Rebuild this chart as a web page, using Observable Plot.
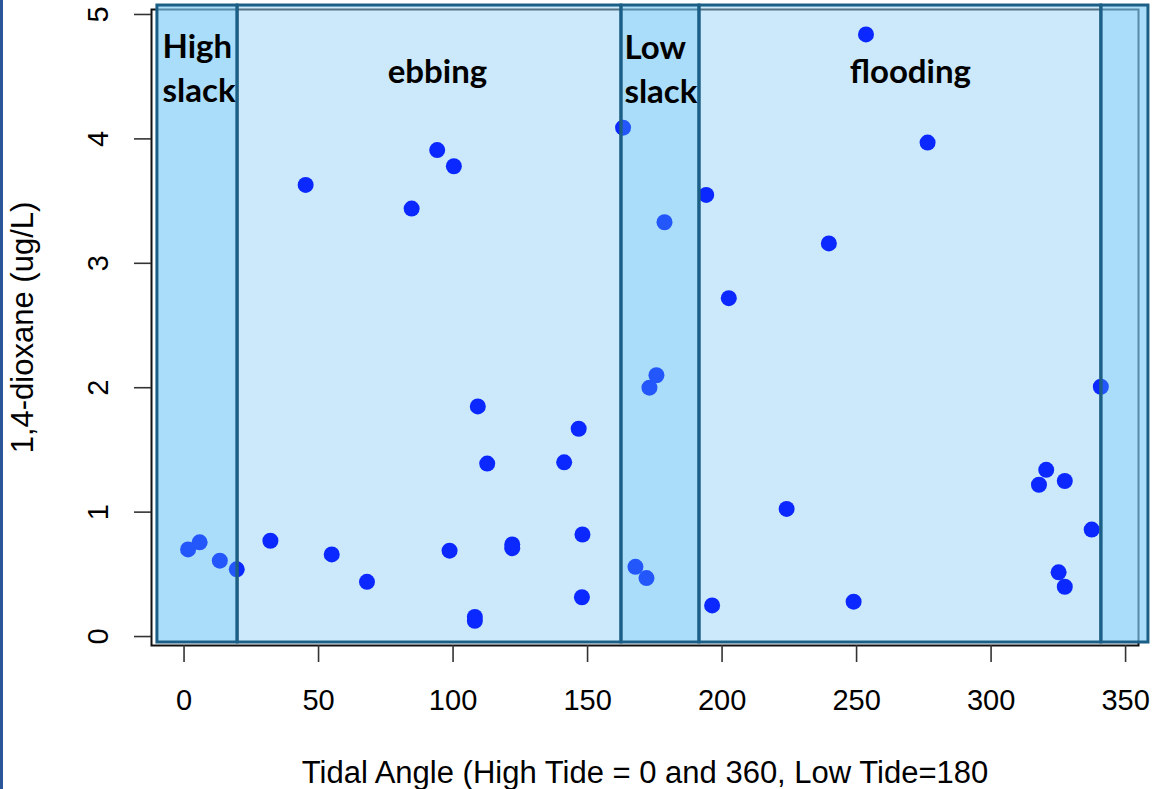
<!DOCTYPE html>
<html><head><meta charset="utf-8">
<script src="https://cdn.jsdelivr.net/npm/d3@7"></script>
<script src="https://cdn.jsdelivr.net/npm/@observablehq/plot@0.6"></script>
<style>
html,body{margin:0;padding:0;background:#fff;}
#wrap{position:relative;width:1153px;height:789px;overflow:hidden;}
#edge{position:absolute;left:0;top:0;width:3px;height:789px;background:#2a5699;z-index:2;}
svg{display:block;}
</style></head><body><div id="wrap"><div id="edge"></div></div>
<script>
// Tidal angle (degrees) and 1,4-dioxane concentration (ug/L)
const angle = [1.5, 5.8, 13.3, 19.6, 32.1, 45.2, 54.9, 68.0, 84.6, 94.1, 98.7, 100.3,
  108.1, 108.1, 109.2, 112.7, 122.0, 122.0, 141.3, 146.7, 148.1, 147.9,
  163.2, 167.8, 171.9, 173.0, 175.6, 178.6, 194.1, 196.3, 202.5, 224.0,
  239.7, 248.9, 253.5, 276.4, 317.8, 320.5, 325.1, 327.4, 327.4, 337.4, 340.8];
const dioxane = [0.70, 0.757, 0.61, 0.54, 0.77, 3.63, 0.66, 0.44, 3.44, 3.91, 0.69, 3.78,
  0.158, 0.126, 1.85, 1.39, 0.74, 0.71, 1.40, 1.67, 0.82, 0.316,
  4.09, 0.56, 0.47, 2.00, 2.10, 3.33, 3.55, 0.25, 2.72, 1.026,
  3.16, 0.28, 4.84, 3.97, 1.22, 1.34, 0.516, 1.25, 0.40, 0.86, 2.008];

const xTicks = [0, 50, 100, 150, 200, 250, 300, 350];
const yTicks = [0, 1, 2, 3, 4, 5];

// tidal phases (band drawn over the plot)
const phaseName  = ["High slack", "ebbing", "Low slack", "flooding", "High slack"];
const phaseStart = [-9.9, 19.9, 162.6, 191.6, 341.0];
const phaseEnd   = [19.9, 162.6, 191.6, 341.0, 358.5];
const phaseSlack = [true, false, true, false, true];
const bandBottom = -0.048, bandTop = 5.072;

// phase annotations
const labelText = ["High\nslack", "ebbing", "Low\nslack", "flooding"];
const labelX    = [-8.0, 94.2, 163.7, 270.0];
const labelY    = [4.293, 4.453, 4.285, 4.453];
const labelAnchor = ["start", "middle", "start", "middle"];

const xLabel = "Tidal Angle (High Tide = 0 and 360, Low Tide=180";
const yLabel = "1,4-dioxane (ug/L)";

const points = angle.map((a, i) => ({angle: a, dioxane: dioxane[i]}));
const phases = phaseName.map((n, i) => ({name: n, x1: phaseStart[i], x2: phaseEnd[i], slack: phaseSlack[i]}));
const band = [{x1: phaseStart[0], x2: phaseEnd[phaseEnd.length - 1]}];
const labels = labelText.map((t, i) => ({text: t, x: labelX[i], y: labelY[i], anchor: labelAnchor[i]}));

const axisFont = "'Liberation Sans', Arial, sans-serif";
const boldFont = "Lato, 'Open Sans', sans-serif";

const chart = Plot.plot({
  width: 1153,
  height: 789,
  marginLeft: 151,
  marginRight: 15,
  marginTop: 9,
  marginBottom: 144,
  style: {fontFamily: axisFont, background: "transparent", overflow: "visible"},
  x: {domain: [-12.1, 354.8]},
  y: {domain: [-0.072, 5.040]},
  marks: [
    Plot.frame({stroke: "#111", strokeWidth: 2}),
    Plot.rect(band, {x1: "x1", x2: "x2", y1: () => bandBottom, y2: () => bandTop, fill: "#99d3f7", fillOpacity: 0.5}),
    Plot.dot(points, {x: "angle", y: "dioxane", r: 8, fill: "#0a28ff", stroke: null}),
    Plot.rect(phases.filter(d => d.slack), {x1: "x1", x2: "x2", y1: () => bandBottom, y2: () => bandTop, fill: "#5fc3f5", fillOpacity: 0.31}),
    Plot.rect(phases, {x1: "x1", x2: "x2", y1: () => bandBottom, y2: () => bandTop, fill: "none", stroke: "#1c5f86", strokeWidth: 3}),
    ...["start", "middle"].map(a => Plot.text(labels.filter(d => d.anchor === a), {
      x: "x", y: "y", text: "text", textAnchor: a, lineAnchor: "bottom", lineHeight: 1.34,
      fontSize: 33, fontWeight: 700, fontFamily: boldFont, fill: "#000"
    })),
    Plot.axisX({ticks: xTicks, tickSize: 17, tickPadding: 27, fontSize: 29, label: null, stroke: "#333", strokeWidth: 1.6, fill: "#000"}),
    Plot.axisY({ticks: yTicks, tickSize: 17, tickFormat: () => "", label: null, stroke: "#333", strokeWidth: 1.6}),
    Plot.text(yTicks, {y: d => d, text: d => String(d), frameAnchor: "left", dx: -53, rotate: -90, textAnchor: "middle", lineAnchor: "middle", fontSize: 29, fill: "#000"}),
    Plot.text([xLabel], {text: d => d, frameAnchor: "bottom", dy: 137, textAnchor: "middle", lineAnchor: "bottom", fontSize: 31, fill: "#000"}),
    Plot.text([yLabel], {text: d => d, frameAnchor: "left", dx: -128, rotate: -90, textAnchor: "middle", lineAnchor: "middle", fontSize: 31, fill: "#000"})
  ]
});
document.getElementById("wrap").appendChild(chart);
</script>
</body></html>
